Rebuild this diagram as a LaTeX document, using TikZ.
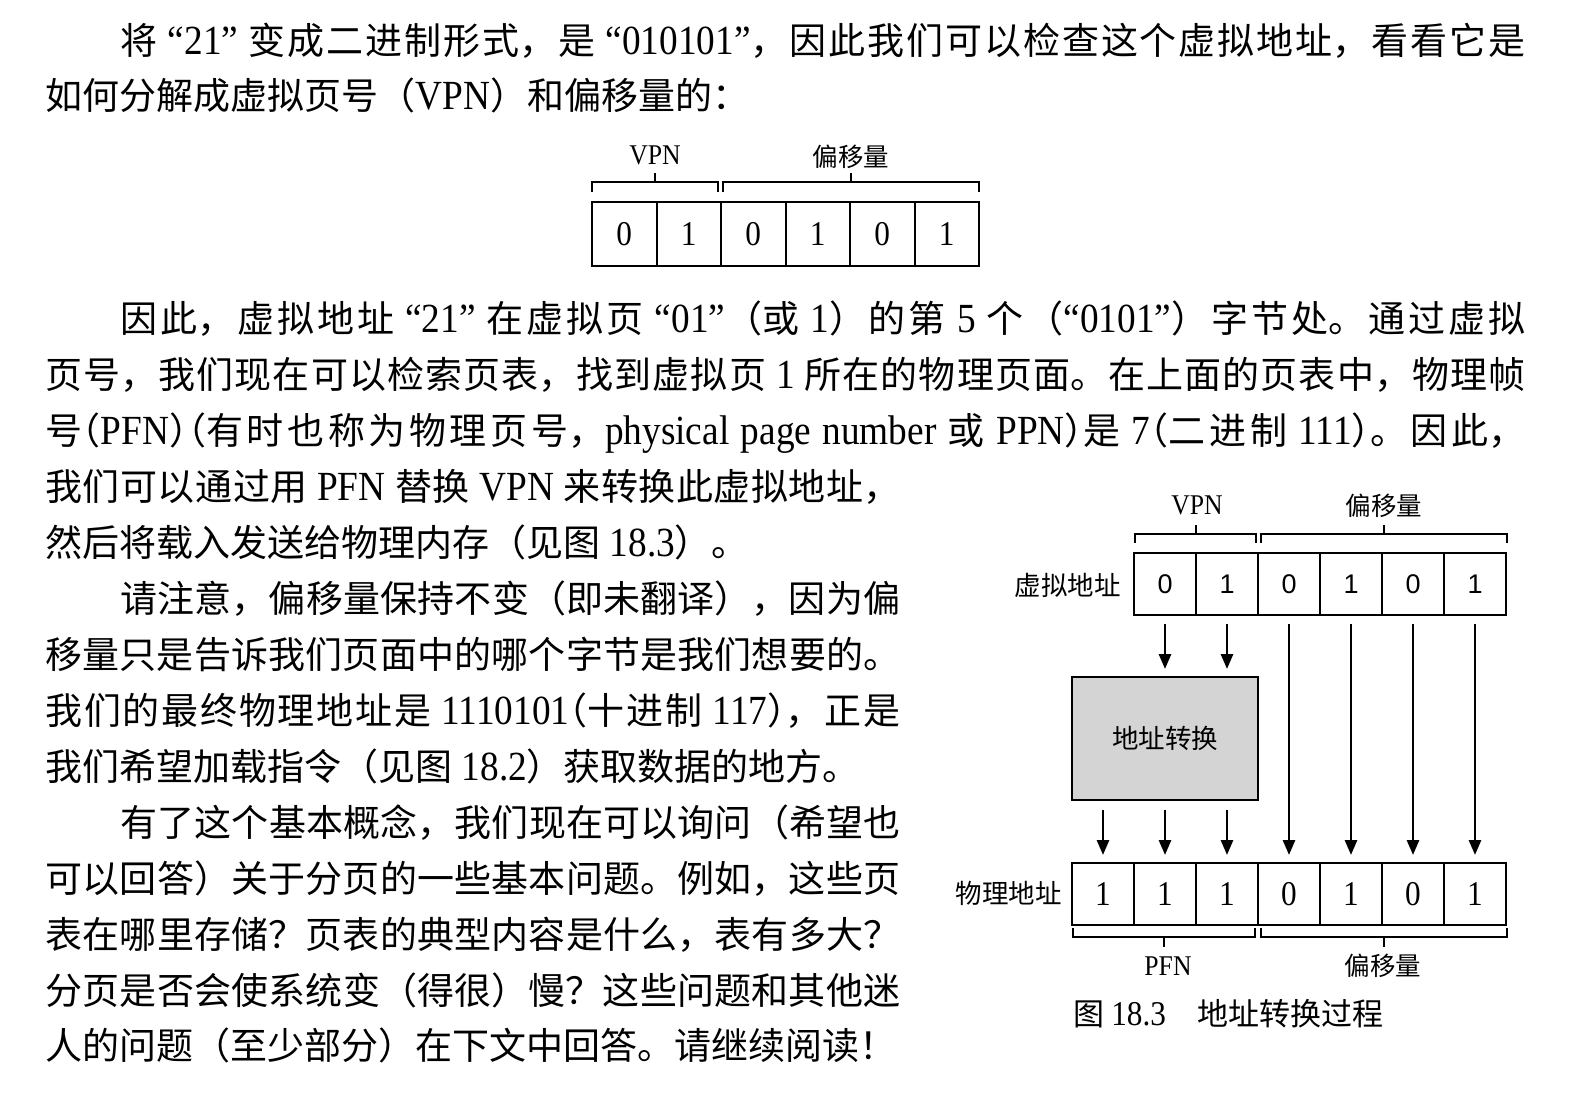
\documentclass[tikz,border=0pt]{standalone}
\usepackage{fontspec}
\setmainfont{Noto Sans CJK SC}
\newfontfamily\tnr{Liberation Serif}[Scale=1.12, FakeStretch=0.9]
\newfontfamily\hel{Liberation Sans}
\usetikzlibrary{arrows.meta,positioning}
\XeTeXlinebreaklocale "zh"
\XeTeXlinebreakskip=0pt plus 4pt
\tolerance=10000
\hbadness=10000
\newdimen\pxu \pxu=0.5pt
\newcommand{\en}[1]{{\tnr #1}}
\newcommand{\hlp}{\makebox[0.5em][r]{（}}
\newcommand{\hrp}{\makebox[0.5em][l]{）}}
\newcommand{\jl}[1]{\noindent\parfillskip=0pt\relax #1\par}
\newcommand{\bodyfont}{\fontsize{18.5}{22}\selectfont}
\newcommand{\lblfont}{\fontsize{12.75}{15}\selectfont}
\newcommand{\namefont}{\fontsize{13.25}{16}\selectfont}
\newcommand{\bitfont}{\tnr\fontsize{15.5}{18}\selectfont}
\newcommand{\vbitfont}{\hel\fontsize{13.5}{16}\selectfont}
\newcommand{\capfont}{\fontsize{15.5}{18}\selectfont}
\begin{document}
\begin{tikzpicture}[
  x=0.5pt, y=-0.5pt,
  txt/.style={anchor=base west, inner sep=0pt, text width=#1\pxu, align=justify, font=\bodyfont},
  lastline/.style={anchor=base west, inner sep=0pt, font=\bodyfont},
  bit/.style={draw, line width=1pt, inner sep=0pt, outer sep=0pt},
  topbit/.style={bit, minimum width=64.5\pxu, minimum height=64\pxu, font=\bitfont},
  vbit/.style={bit, minimum width=62\pxu, minimum height=62\pxu, font=\vbitfont},
  pbit/.style={bit, minimum width=62\pxu, minimum height=62\pxu, font=\bitfont},
  lbl/.style={anchor=base, inner sep=0pt, font=\lblfont},
  rowname/.style={anchor=base east, inner sep=0pt, font=\namefont},
  brc/.style={line width=0.8pt},
  arr/.style={->, line width=1.4pt},
  >={Triangle[length=7.5pt, width=6pt]}
]
\fill[white] (0,0) rectangle (1570,1100);

\node[txt=1405] (p1a) at (120,54) {\jl{将\en{ “21” }变成二进制形式，是\en{ “010101”}，因此我们可以检查这个虚拟地址，看看它是}};
\node[lastline] (p1b) at (45,109) {如何分解成虚拟页号（\en{VPN}）和偏移量的：};

\node[topbit] (t0) at (624.25,234) {0};
\node[topbit, right=0pt of t0] (t1) {1};
\node[topbit, right=0pt of t1] (t2) {0};
\node[topbit, right=0pt of t2] (t3) {1};
\node[topbit, right=0pt of t3] (t4) {0};
\node[topbit, right=0pt of t4] (t5) {1};
\draw[brc] (592,192) -- (592,182) -- (718,182) -- (718,192) (655,182) -- (655,173);
\draw[brc] (723,192) -- (723,182) -- (979,182) -- (979,192) (851,182) -- (851,173);
\node[lbl] (tvpn) at (655,164) {\en{VPN}};
\node[lbl] (toff) at (851,166) {偏移量};

\node[txt=1405] (p2a) at (120,332) {\jl{因此，虚拟地址\en{ “21” }在虚拟页\en{ “01”}（或\en{ 1}）的第\en{ 5 }个（\en{“0101”}）字节处。通过虚拟}};
\node[txt=1480] (p2b) at (45,388) {\jl{页号，我们现在可以检索页表，找到虚拟页\en{ 1 }所在的物理页面。在上面的页表中，物理帧}};
\node[txt=1480] (p2c) at (45,444) {\jl{号\hlp\en{PFN}\hrp\hlp 有时也称为物理页号，\en{physical page number }或\en{ PPN}\hrp 是\en{ 7}\hlp 二进制\en{ 111}\hrp 。因此，}};
\node[txt=855] (p2d) at (45,500) {\jl{我们可以通过用\en{ PFN }替换\en{ VPN }来转换此虚拟地址，}};
\node[lastline] (p2e) at (45,556) {然后将载入发送给物理内存（见图\en{ 18.3}）。};

\node[txt=780] (p3a) at (120,612) {\jl{请注意，偏移量保持不变（即未翻译），因为偏}};
\node[txt=855] (p3b) at (45,668) {\jl{移量只是告诉我们页面中的哪个字节是我们想要的。}};
\node[txt=855] (p3c) at (45,724) {\jl{我们的最终物理地址是\en{ 1110101}\hlp 十进制\en{ 117}\hrp ，正是}};
\node[lastline] (p3d) at (45,780) {我们希望加载指令（见图\en{ 18.2}）获取数据的地方。};

\node[txt=780] (p4a) at (120,836) {\jl{有了这个基本概念，我们现在可以询问（希望也}};
\node[txt=855] (p4b) at (45,892) {\jl{可以回答）关于分页的一些基本问题。例如，这些页}};
\node[txt=855] (p4c) at (45,948) {\jl{表在哪里存储？页表的典型内容是什么，表有多大？}};
\node[txt=855] (p4d) at (45,1004) {\jl{分页是否会使系统变（得很）慢？这些问题和其他迷}};
\node[lastline] (p4e) at (45,1059) {人的问题（至少部分）在下文中回答。请继续阅读！};

\node[lbl] (vpn) at (1197,514) {\en{VPN}};
\node[lbl] (voff) at (1384,515) {偏移量};
\draw[brc] (1135,543) -- (1135,534) -- (1256,534) -- (1256,543) (1196,534) -- (1196,525);
\draw[brc] (1261,543) -- (1261,534) -- (1507,534) -- (1507,543) (1384,534) -- (1384,525);

\node[rowname] (vname) at (1121,595) {虚拟地址};
\node[vbit] (v0) at (1165,584) {0};
\node[vbit, right=0pt of v0] (v1) {1};
\node[vbit, right=0pt of v1] (v2) {0};
\node[vbit, right=0pt of v2] (v3) {1};
\node[vbit, right=0pt of v3] (v4) {0};
\node[vbit, right=0pt of v4] (v5) {1};

\node[draw, line width=1pt, fill=white!83!black, outer sep=0pt,
  minimum width=186\pxu, minimum height=123\pxu, font=\namefont] (xlat) at (1165,738.5) {地址转换};

\node[rowname] (pname) at (1062,903) {物理地址};
\node[pbit] (p0) at (1103,894) {1};
\node[pbit, right=0pt of p0] (p1) {1};
\node[pbit, right=0pt of p1] (p2) {1};
\node[pbit, right=0pt of p2] (p3) {0};
\node[pbit, right=0pt of p3] (p4) {1};
\node[pbit, right=0pt of p4] (p5) {0};
\node[pbit, right=0pt of p5] (p6) {1};

\draw[arr, shorten <=9\pxu, shorten >=8\pxu] (v0.south) -- (v0.south |- xlat.north);
\draw[arr, shorten <=9\pxu, shorten >=8\pxu] (v1.south) -- (v1.south |- xlat.north);
\draw[arr, shorten <=10\pxu, shorten >=8\pxu] (xlat.south -| p0.north) -- (p0.north);
\draw[arr, shorten <=10\pxu, shorten >=8\pxu] (xlat.south -| p1.north) -- (p1.north);
\draw[arr, shorten <=10\pxu, shorten >=8\pxu] (xlat.south -| p2.north) -- (p2.north);
\draw[arr, shorten <=9\pxu, shorten >=8\pxu] (v2.south) -- (p3.north);
\draw[arr, shorten <=9\pxu, shorten >=8\pxu] (v3.south) -- (p4.north);
\draw[arr, shorten <=9\pxu, shorten >=8\pxu] (v4.south) -- (p5.north);
\draw[arr, shorten <=9\pxu, shorten >=8\pxu] (v5.south) -- (p6.north);

\draw[brc] (1073,928) -- (1073,937) -- (1255,937) -- (1255,928) (1164,937) -- (1164,947);
\draw[brc] (1261,928) -- (1261,937) -- (1507,937) -- (1507,928) (1384,937) -- (1384,947);
\node[lbl] (pfn) at (1168,975) {\en{PFN}};
\node[lbl] (poff) at (1383,975) {偏移量};

\node[anchor=base west, inner sep=0pt, font=\capfont] (cap) at (1073,1025) {图 \en{18.3}\hspace{1em}地址转换过程};
\end{tikzpicture}
\end{document}
